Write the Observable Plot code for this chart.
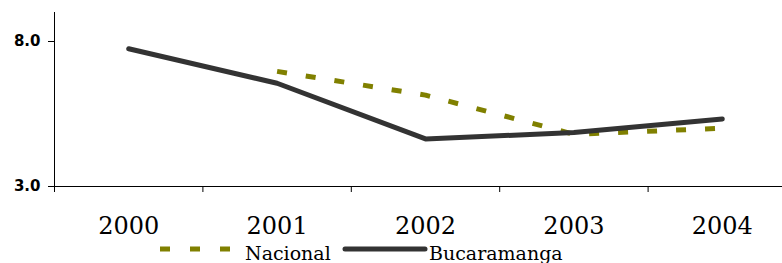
<!DOCTYPE html>
<html>
<head>
<meta charset="utf-8">
<script src="https://cdn.jsdelivr.net/npm/d3@7"></script>
<script src="https://cdn.jsdelivr.net/npm/@observablehq/plot@0.6"></script>
<style>
  html, body { margin: 0; padding: 0; background: #fff; }
  #wrap { position: relative; width: 782px; height: 263px; overflow: hidden; }
  #legend { position: absolute; left: 0; top: 240px; width: 782px; height: 23px; }
  #legend span { position: absolute; font-family: "DejaVu Serif", serif; font-size: 19px; color: #000; line-height: 1; }
</style>
</head>
<body>
<div id="wrap"></div>
<script>
const years = [2000, 2001, 2002, 2003, 2004];
const bucaramanga = [7.75, 6.56, 4.64, 4.86, 5.33];
const nacional = [null, 6.97, 6.15, 4.80, 5.01];
const yTicks = [3, 8];
const seriesNames = ["Nacional", "Bucaramanga"];

const bucData = years.map((y, i) => ({year: y, value: bucaramanga[i]}));
const nacData = years.map((y, i) => ({year: y, value: nacional[i]})).filter(d => d.value != null);
const bounds = [...years.map(y => y - 0.5), years[years.length - 1] + 0.5];

const plot = Plot.plot({
  width: 782,
  height: 240,
  marginLeft: 54,
  marginRight: 0,
  marginTop: 12,
  marginBottom: 54,
  x: {type: "linear", domain: [bounds[0], bounds[bounds.length - 1]], range: [54, 796], label: null},
  y: {domain: [3, 9], label: null},
  marks: [
    Plot.ruleY([3], {stroke: "#000", strokeWidth: 1}),
    Plot.ruleX([bounds[0]], {y1: 3, y2: 9, stroke: "#000", strokeWidth: 1}),
    Plot.axisX({ticks: bounds, tickSize: 6, tickFormat: () => "", stroke: "#000", label: null}),
    Plot.axisX({ticks: years, tickSize: 0, tickPadding: 30, tickFormat: d => String(d), label: null,
      fontFamily: "DejaVu Serif", fontSize: 24, fill: "#000"}),
    Plot.axisY({ticks: yTicks, tickSize: 6, tickPadding: 8, tickFormat: d3.format(".1f"), label: null,
      fontFamily: "DejaVu Sans", fontWeight: "bold", fontSize: 15, fill: "#000", stroke: "#000"}),
    Plot.line(nacData, {x: "year", y: "value", stroke: "#808000", strokeWidth: 5,
      strokeDasharray: "10,19", strokeLinecap: "butt"}),
    Plot.line(bucData, {x: "year", y: "value", stroke: "#333333", strokeWidth: 5,
      strokeLinecap: "round", strokeLinejoin: "round"})
  ]
});
const wrap = document.getElementById("wrap");
wrap.appendChild(plot);

// Legend
const legend = document.createElement("div");
legend.id = "legend";
legend.innerHTML = `
<svg width="782" height="23" style="position:absolute;left:0;top:0">
  <line x1="160" x2="232" y1="9" y2="9" stroke="#808000" stroke-width="5" stroke-dasharray="10,20"/>
  <line x1="345" x2="425" y1="9" y2="9" stroke="#333333" stroke-width="5" stroke-linecap="round"/>
</svg>
<span style="left:245px;top:4px">${seriesNames[0]}</span>
<span style="left:429px;top:4px">${seriesNames[1]}</span>`;
wrap.appendChild(legend);
</script>
</body>
</html>
